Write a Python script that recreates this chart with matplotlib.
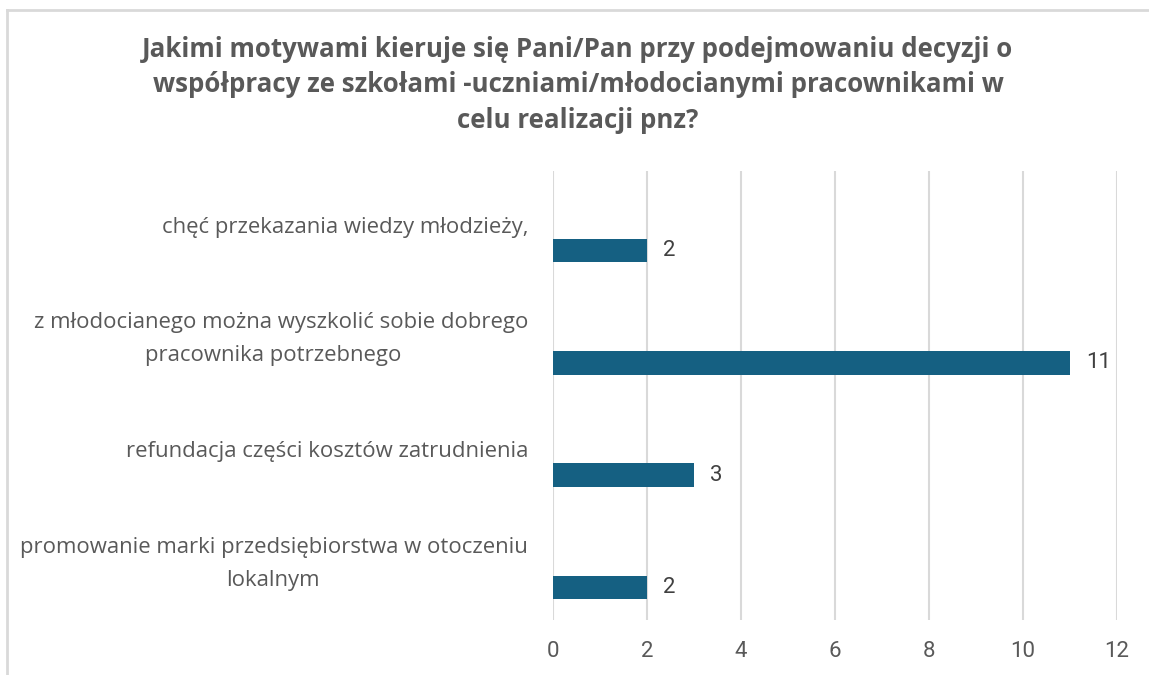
import matplotlib.pyplot as plt
import numpy as np

categories = [
    "chęć przekazania wiedzy młodzieży,",
    "z młodocianego można wyszkolić sobie dobrego\npracownika potrzebnego",
    "refundacja części kosztów zatrudnienia",
    "promowanie marki przedsiębiorstwa w otoczeniu\nlokalnym",
]
values = [2, 11, 3, 2]
xticks = [0, 2, 4, 6, 8, 10, 12]

title = ("Jakimi motywami kieruje się Pani/Pan przy podejmowaniu decyzji o\n"
         "współpracy ze szkołami -uczniami/młodocianymi pracownikami w\n"
         "celu realizacji pnz?")

W, H = 1149, 675
fig = plt.figure(figsize=(W / 100, H / 100), dpi=100)
grey = "#595959"

# chart frame (only top and left edges fall inside the picture)
fig.add_artist(plt.Line2D([7 / W, 7 / W], [0, 1 - 10 / H], color="#d9d9d9", lw=2))
fig.add_artist(plt.Line2D([7 / W, 1], [1 - 10 / H, 1 - 10 / H], color="#d9d9d9", lw=2))

left, right, top, bottom = 553, 1117, 171, 620
ax = fig.add_axes([left / W, 1 - bottom / H, (right - left) / W, (bottom - top) / H])

y = np.arange(len(categories))
bars = ax.barh(y + 0.21, values, height=0.21, color="#156082", zorder=3)
for b, v in zip(bars, values):
    ax.text(b.get_width() + 0.34, b.get_y() + b.get_height() / 2, str(v),
            va="center", ha="left", fontsize=16, color="#404040", family="Roboto")

ax.set_xlim(0, 12)
ax.set_ylim(len(categories) - 0.5, -0.5)
ax.set_xticks(xticks)
ax.set_xticklabels([str(t) for t in xticks], fontsize=16, color=grey, family="Roboto")
ax.tick_params(axis="x", length=0, pad=15)
ax.set_yticks([])
ax.grid(axis="x", color="#d9d9d9", lw=1.5, zorder=0)
for s in ax.spines.values():
    s.set_visible(False)

# category labels: first line right-aligned, wrapped lines centred under the wrap box
for i, cat in enumerate(categories):
    lines = cat.split("\n")
    n = len(lines)
    for j, line in enumerate(lines):
        dy = (j - (n - 1) / 2) * 0.295
        if j == 0:
            ax.text(-0.53, i + dy, line, ha="right", va="center", fontsize=15.9,
                    color=grey, family="Open Sans", clip_on=False)
        else:
            ax.text(-5.95, i + dy, line, ha="center", va="center", fontsize=15.9,
                    color=grey, family="Open Sans", clip_on=False)

fig.text(0.5 * (1 + 7 / W), 1 - 85 / H, title, ha="center", va="center",
         fontsize=18.6, fontweight="bold", color=grey, family="Open Sans", linespacing=1.4)

fig.savefig("out.png", dpi=100)
